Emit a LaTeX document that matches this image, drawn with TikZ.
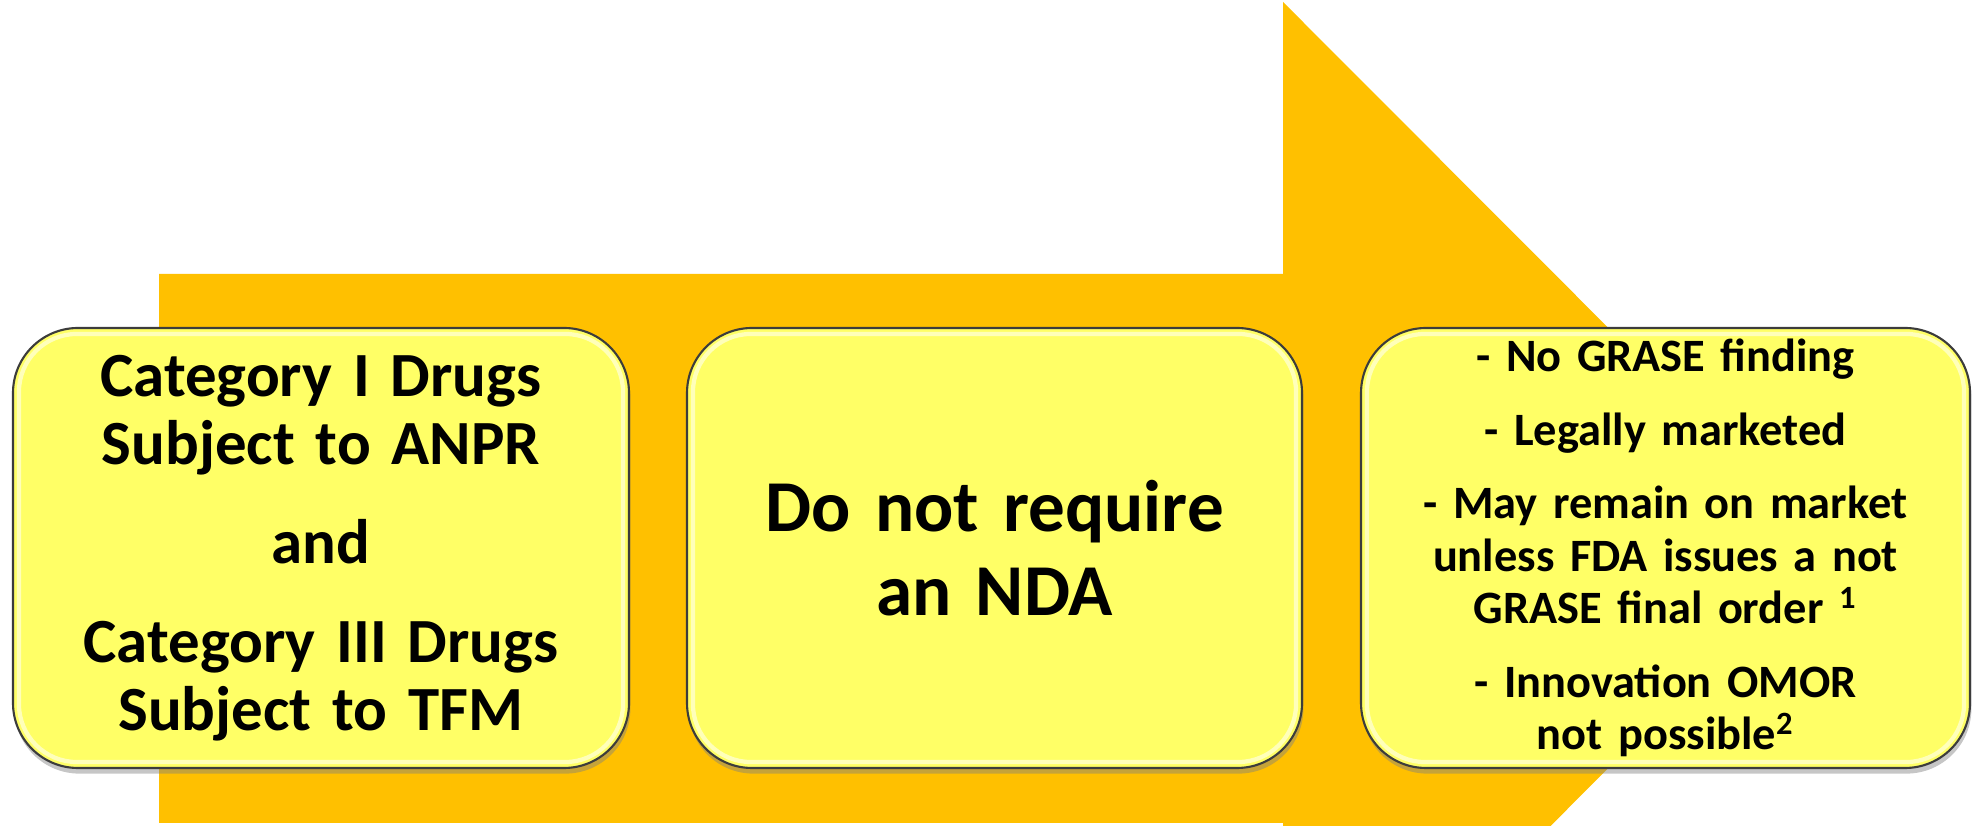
\documentclass[tikz,border=0pt]{standalone}
\usepackage{fontspec}
\setmainfont{Carlito}
\usetikzlibrary{shadows}
\definecolor{arrowgold}{HTML}{FFC000}
\definecolor{boxyellow}{HTML}{FFFF66}
\definecolor{boxedge}{HTML}{3C3C3C}
\tikzset{
  card/.style={draw=boxedge, line width=0.6pt, fill=boxyellow,
    rounded corners=0.65cm, minimum height=4.4cm, inner sep=0pt,
    align=center, drop shadow={shadow xshift=0.4pt, shadow yshift=-1.6pt, opacity=0.45}},
  rim/.style={draw=white, line width=1.2pt, opacity=0.55, rounded corners=0.58cm}
}
\begin{document}
\begin{tikzpicture}
\useasboundingbox (0,0) rectangle (19.72,8.26);
% 画箭头
\begin{scope}
\clip (0,0) rectangle (19.72,8.26);
\fill[arrowgold] (1.59,0.03) -- (1.59,5.52) -- (12.83,5.52) -- (12.83,8.24)
  -- (18.28,2.78) -- (12.83,-2.68) -- (12.83,0.03) -- cycle;
\end{scope}
% 三个方框
\node[card, minimum width=6.16cm, text width=6cm,
  font=\bfseries\fontsize{17.9}{19.35}\selectfont] (cat) at (3.21,2.78)
  {Category I Drugs\\ Subject to ANPR\\[8.8pt] and\\[8.8pt] Category III Drugs\\ Subject to TFM};
\node[card, minimum width=6.15cm, text width=6cm,
  font=\bfseries\fontsize{20.8}{23.9}\selectfont] (nda) at (9.945,2.78)
  {Do not require\\ an NDA};
\node[card, minimum width=6.09cm, text width=5.9cm,
  font=\bfseries\fontsize{13.2}{14.9}\selectfont] (status) at (16.655,2.78)
  {- No GRASE finding\\[6pt] - Legally marketed\\[6pt] - May remain on market\\ unless FDA issues a not\\ GRASE final order \textsuperscript{1}\\[6pt] - Innovation OMOR\\ not possible\textsuperscript{2}};
% 高光
\foreach \n in {cat,nda,status}
  \draw[rim] ([shift={(0.07,0.07)}]\n.south west) rectangle ([shift={(-0.07,-0.07)}]\n.north east);
\end{tikzpicture}
\end{document}
